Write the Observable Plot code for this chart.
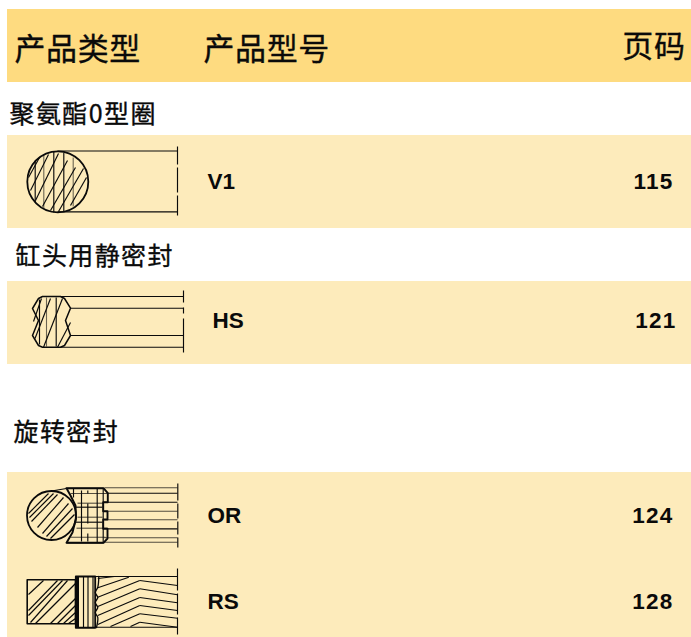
<!DOCTYPE html>
<html lang="zh">
<head>
<meta charset="utf-8">
<script src="https://cdn.jsdelivr.net/npm/d3@7"></script>
<script src="https://cdn.jsdelivr.net/npm/@observablehq/plot@0.6"></script>
<style>html,body{margin:0;padding:0;background:#fff}svg{display:block}</style>
</head>
<body>
<div id="chart"></div>
<script>
const headerLabels = [["产品类型",14,50],["产品型号",203,50]];
const headerPage = [["页码",685,47]];
const sectionNames = [["聚氨酯0型圈",9,114],["缸头用静密封",15,256],["旋转密封",13,432]];
const modelCodes = [["V1",207,181],["HS",212,320],["OR",207,515],["RS",207,601]];
const pageNumbers = [["115",673,181],["121",676,320],["124",673,515],["128",673,601]];
const headerBand = [[7,9,691,82]];
const rowBands = [[7,135,691,228],[7,281,691,364],[7,472,691,637]];
const circles = [[57.3,181.3,30.5],[51,515,24.5]];

// seal drawings, each entry: x1,y1,x2,y2
const v1Dark = [[57,150.5,177,150.5],[57,211.3,177,211.3],[177,146,177,164],[177,167,177,192],[177,195,177,215],
  [28,177,39,157],[30,190,48,154],[35,200,58,153],[42,206,67,160],[50,210,75,167],[58,211,83,168],[70,205,86,177],
  [34.7,160,34.7,202],[53.3,151,53.3,212],[63.3,152,63.3,211]];
const v1Soft = [[43.3,154,43.3,208],[72.7,157,72.7,206]];
const hsDark = [[60,296,183,296],[70,307.7,183,307.7],[70,335,183,335],[60,346.7,183,346.7],
  [183,290,183,302],[183,307,183,313],[183,318,183,352],
  [33,321,41,298],[34.5,338,50,298],[43,346.7,62,298],[57,346.7,70,322],
  [39,299,39,344],[55.7,297,55.7,346]];
const hsSoft = [[46,297,46,346]];
const hsOutline = [[42,296],[60,296],[64,298],[70,307.7],[65,320],[70,335],[64,345],[60,346.7],[42,346.7],[38,345],[32,335],[38,320],[32,308],[38,298],[42,296]];
const orDark = [[107,492.7,177,492.7],[107,528.3,177,528.3],[103,501.7,177,501.7],
  [177.3,483,177.3,500],[177.3,503,177.3,518],[177.3,521,177.3,534],[177.3,537,177.3,547],
  [28,513,48,493],[29,517,53,493],[31,521,57,494],[37,527,63,497],[42,533,68,503],[46,536,72,508],[50,538,74,514],
  [81,490,81,541],[96.7,488,96.7,542],[102.7,488,102.7,542],[87.3,490,87.3,493],[87.3,503,87.3,523],[87.3,533,87.3,541],[73,488,73,497],
  [74,506.7,102,506.7],[74,521.7,102,521.7],[66,487.7,103,487.7],[66,542.3,103,542.3],
  [51,490.5,66,488]];
const orSoft = [[70,493,107,493],[104,487.3,177,487.3],[104,510.7,177,510.7],[104,519.3,177,519.3],[104,537.3,177,537.3],[104,541.7,177,541.7],
  [77,502.7,103,502.7],[77,516.7,102,516.7],[76,527.7,107,527.7],[70,536.7,105,536.7]];
const orOutline = [[66,487.7],[103,487.7],[107.3,492.7],[107.3,501.7],[102.7,501.7],[102.7,510.7],[107,510.7],[107,519],[102.7,519],[102.7,528.3],[107,528.3],[107,538],[103,542.3],[66,542.3],[72,532],[75.5,518],[75,505],[70,495],[66,487.7]];
const rsRect = [[26.7,579.3],[75,579.3],[75,623.3],[26.7,623.3],[26.7,579.3]];
const rsMetal = [[75.3,576],[94.7,576],[94.7,627.3],[75.3,627.3],[75.3,576]];
const rsScallop = [[98.3,576],[97.3,586.7],[94.7,592],[97.3,597],[94.7,602],[97.3,607],[94.7,612],[97.3,617],[96,627]];
const rsHatch = [[28,594,43,580],[28,610,57,580],[28,615,62,580],[30,622,67,580],[35,623,75,583],
  [50,623,75,598],[57,623,75,605],[63,623,75,612],[68,623,75,618]];
const rsDark = [[75,576,177,576],[75,626.7,177,626.7],[177,568,177,590],[177,593,177,614],[177,617,177,634],
  [83,576,83,627],[87.5,576,87.5,627],[92.5,576,92.5,627],
  [97.3,578,114,576],[97.3,587.3,128.3,576.7],[97.3,596.7,139.3,580],[97.3,606,139.3,588.3],[97.3,615,139.3,597],[97.3,624,139.3,605],[110,626,139.3,613.3],[130,626,139.3,621.7],
  [139.3,580,177,585],[139.3,588.3,177,594.3],[139.3,597,177,602.3],[139.3,605,177,610],[139.3,613.3,177,617.7],[139.3,621.7,177,626.7]];
const rsThick = [[77,576,77,627]];

const cjk = "'Noto Sans CJK SC','Noto Sans CJK JP',sans-serif";
const latin = "'Liberation Sans',Arial,sans-serif";
const ink = "#0a0a0a";
const seg = (data, strokeWidth, strokeOpacity = 1) => Plot.link(data, {
  x1: d => d[0], y1: d => d[1], x2: d => d[2], y2: d => d[3], stroke: ink, strokeWidth, strokeOpacity});
const outline = (data, strokeWidth, curve = "linear") => Plot.line(data, {
  x: d => d[0], y: d => d[1], stroke: ink, strokeWidth, curve});
const band = (data, fill) => Plot.rect(data, {x1: d => d[0], y1: d => d[1], x2: d => d[2], y2: d => d[3], fill});
const label = (data, o) => Plot.text(data, {x: d => d[1], y: d => d[2], text: d => d[0], fill: "#0a0a0a", lineAnchor: "middle", ...o});
const cjkWeight = {stroke: "#0a0a0a", strokeWidth: 0.35};

const svg = Plot.plot({
  width: 691, height: 637, margin: 0,
  style: {background: "#fff"},
  x: {domain: [0, 691], axis: null},
  y: {domain: [637, 0], range: [637, 0], axis: null, reverse: false},
  r: {type: "identity"},
  marks: [
    band(headerBand, "#fedb80"),
    band(rowBands, "#fdebbb"),
    Plot.dot(circles, {x: d => d[0], y: d => d[1], r: d => d[2], stroke: ink, strokeWidth: 1.8, fill: "none"}),
    seg(v1Dark, 1.15), seg(v1Soft, 1.1, 0.6),
    outline(hsOutline, 1.5), seg(hsDark, 1.15), seg(hsSoft, 1.1, 0.6),
    seg(orDark, 1.15), seg(orSoft, 1.1, 0.7), outline(orOutline, 1.9),
    outline(rsRect, 1.6), outline(rsMetal, 1.8), outline(rsScallop, 1.3, "catmull-rom"),
    seg(rsHatch, 1.15), seg(rsDark, 1.15), seg(rsThick, 3),
    label(headerLabels, {fontFamily: cjk, fontSize: 31, textAnchor: "start", ...cjkWeight}),
    label(headerPage, {fontFamily: cjk, fontSize: 31, textAnchor: "end", ...cjkWeight}),
    label(sectionNames, {fontFamily: cjk, fontSize: 25, textAnchor: "start", ...cjkWeight}),
    label(modelCodes, {fontFamily: latin, fontSize: 22.5, fontWeight: 700, textAnchor: "start"}),
    label(pageNumbers, {fontFamily: latin, fontSize: 22.5, fontWeight: 700, textAnchor: "end"})
  ]
});
const spacing = {header: "0.6px", section: "1.4px"};
svg.querySelectorAll("text").forEach(t => {
  const g = t.parentNode, fs = parseFloat(g.getAttribute("font-size"));
  if (fs === 31) t.style.letterSpacing = spacing.header;
  if (fs === 25) t.style.letterSpacing = spacing.section;
  if (/^\d+$/.test(t.textContent)) t.style.letterSpacing = "1.2px";
});
document.getElementById("chart").append(svg);
</script>
</body>
</html>
